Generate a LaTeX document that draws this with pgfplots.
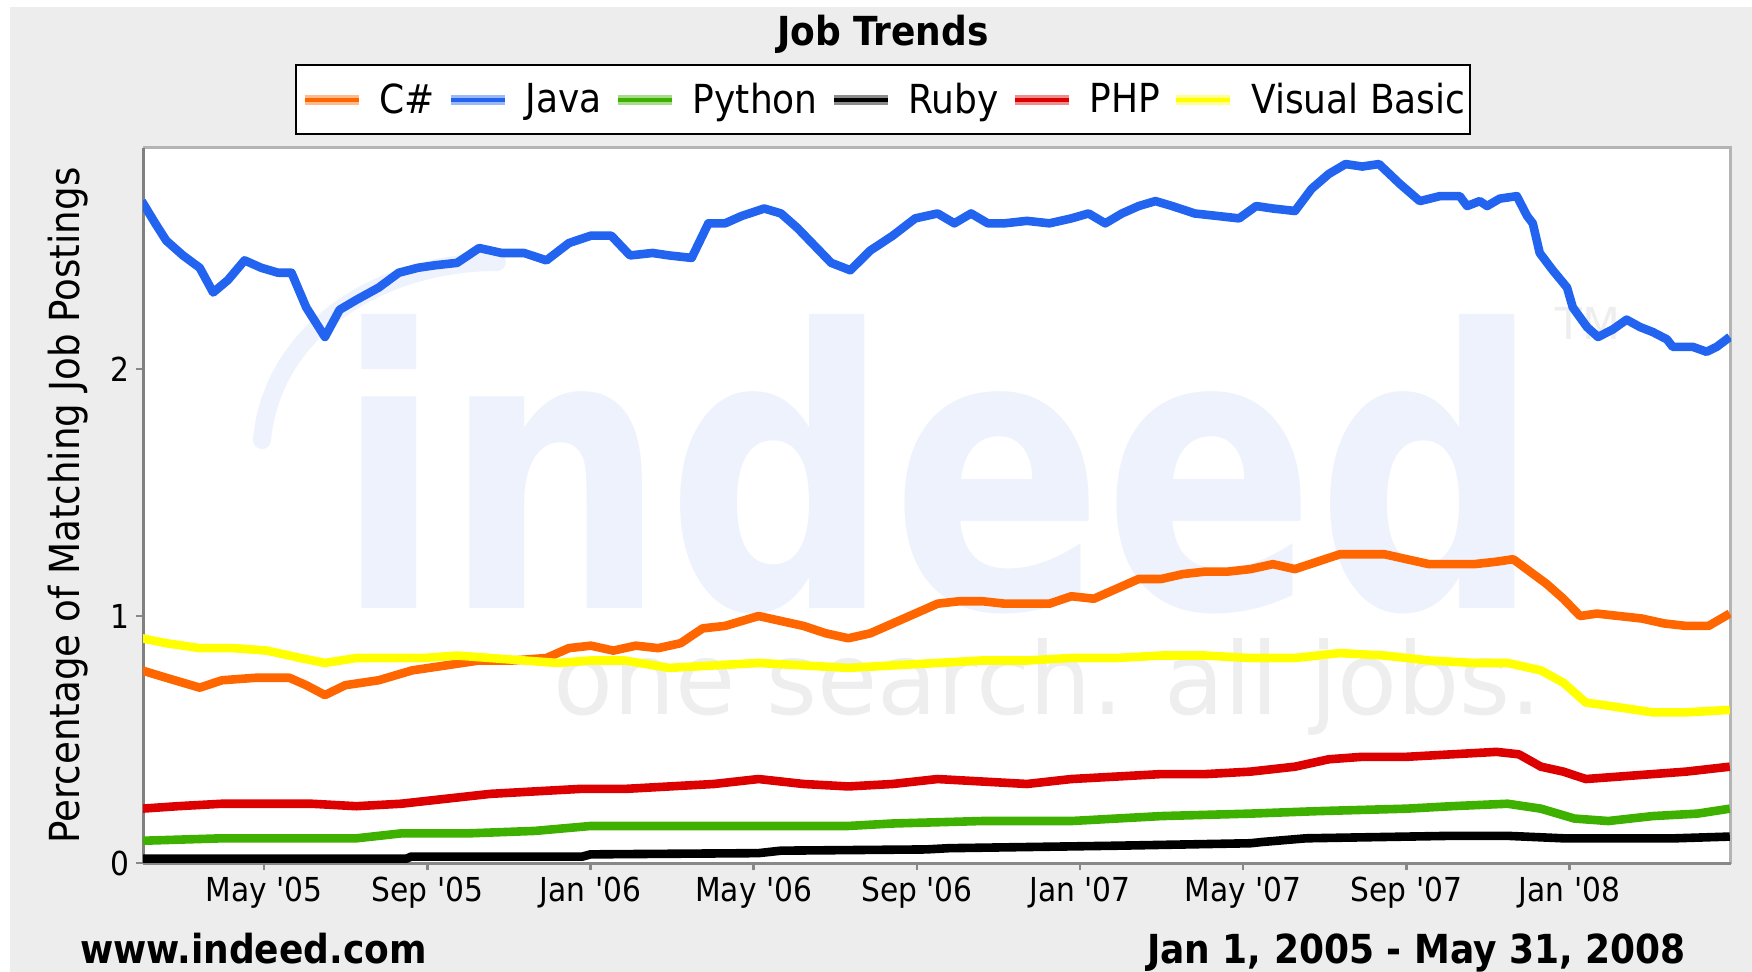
\documentclass[border=0pt]{standalone}
\usepackage{pgfplots}
\pgfplotsset{compat=1.18}
\usepackage{fontspec}
\usepackage{graphicx}
\setmainfont{DejaVu Sans Condensed}
\newfontfamily\wmfont{DejaVu Sans}
\definecolor{bggray}{HTML}{EDEDED}
\definecolor{framelight}{HTML}{B4B4B4}
\definecolor{axisgray}{HTML}{888888}
\definecolor{axisdark}{HTML}{808080}
\definecolor{wmblue}{HTML}{EEF2FD}
\definecolor{wmgray}{HTML}{EEEEEE}
\definecolor{csharp}{HTML}{FF6600}
\definecolor{java}{HTML}{2264F0}
\definecolor{python}{HTML}{3DB000}
\definecolor{ruby}{HTML}{000000}
\definecolor{php}{HTML}{DD0000}
\definecolor{vb}{HTML}{FFFF00}
\begin{document}
\begin{tikzpicture}
\useasboundingbox (0,0) rectangle (876bp,-486bp);
\begin{scope}[x=0.5bp,y=-0.5bp]
\fill[white] (0,0) rectangle (1752,972);
\fill[bggray] (10,7) rectangle (1752,972);
\fill[white] (143,148) rectangle (1731,863);
% watermark
\draw[wmblue, line width=9bp, line cap=round] (262,440) .. controls (272,330) and (380,262) .. (497,262);
\node[anchor=base west, inner sep=0, text=wmblue] at (335,609) {\resizebox{602bp}{147bp}{\wmfont\bfseries indeed}};
\node[anchor=base west, inner sep=0, text=wmgray] at (553,715) {\resizebox{494bp}{38bp}{\wmfont one search. all jobs.}};
\node[anchor=base west, inner sep=0, text=wmgray, font=\wmfont\fontsize{22bp}{24bp}\selectfont] at (1555,340) {TM};
% light frame (top and right)
\draw[framelight, line width=1.5bp] (143,148) -- (1731,148) -- (1731,864);
% title
\node[anchor=base, inner sep=0, font=\bfseries\fontsize{20bp}{24bp}\selectfont] at (883,45) {Job Trends};
% y label
\node[anchor=base, rotate=90, inner sep=0, font=\fontsize{20.7bp}{24bp}\selectfont] at (80,505.5) {Percentage of Matching Job Postings};
% footer
\node[anchor=base west, inner sep=0, font=\bfseries\fontsize{20bp}{24bp}\selectfont] at (80,964) {www.indeed.com};
\node[anchor=base east, inner sep=0, font=\bfseries\fontsize{20bp}{24bp}\selectfont] at (1686,964) {Jan 1, 2005 - May 31, 2008};
\end{scope}
\begin{axis}[
  at={(71.5bp,-431.5bp)}, anchor=south west,
  scale only axis, width=794bp, height=357.5bp,
  xmin=1.03, xmax=39.96, ymin=0, ymax=2.895,
  axis x line*=bottom, axis y line*=left,
  x axis line style={draw=axisgray, line width=1.5bp, -},
  y axis line style={draw=axisdark, line width=1.5bp, -},
  xtick={4,8,12,16,20,24,28,32,36},
  xticklabels={May \textquotesingle05, Sep \textquotesingle05, Jan \textquotesingle06, May \textquotesingle06, Sep \textquotesingle06, Jan \textquotesingle07, May \textquotesingle07, Sep \textquotesingle07, Jan \textquotesingle08},
  ytick={0,1,2},
  /pgf/number format/assume math mode=true,
  tick align=outside, major tick length=3.5bp,
  tick style={draw=axisgray, line width=1.2bp},
  tick label style={font=\fontsize{16.5bp}{20bp}\selectfont},
  every axis plot/.append style={line width=4.3bp, line join=round},
  legend style={
    at={(0.466,1.1175)}, anchor=north, legend columns=-1,
    draw=black, line width=1bp, fill=white,
    font=\fontsize{20bp}{24bp}\selectfont,
    inner xsep=2bp, inner ysep=8.5bp,
    /tikz/every odd column/.append style={column sep=7.5bp},
    /tikz/every even column/.append style={column sep=5bp},
    nodes={inner sep=0.5bp},
  },
  legend image code/.code={
    \draw[#1, line width=5bp, opacity=0.45, line cap=butt] (0bp,0bp) -- (27bp,0bp);
    \draw[#1, line width=2bp, line cap=butt] (0bp,0bp) -- (27bp,0bp);
  },
]
\addplot[csharp] coordinates {(1.00,0.78) (1.60,0.75) (2.42,0.71) (2.97,0.74) (3.79,0.75) (4.62,0.75) (5.03,0.72) (5.49,0.68) (5.99,0.72) (6.81,0.74) (7.63,0.78) (8.45,0.80) (9.27,0.82) (10.10,0.82) (10.92,0.83) (11.47,0.87) (12.01,0.88) (12.56,0.86) (13.11,0.88) (13.66,0.87) (14.21,0.89) (14.75,0.95) (15.30,0.96) (16.12,1.00) (16.67,0.98) (17.22,0.96) (17.77,0.93) (18.32,0.91) (18.86,0.93) (19.41,0.97) (19.96,1.01) (20.51,1.05) (21.05,1.06) (21.60,1.06) (22.15,1.05) (22.70,1.05) (23.25,1.05) (23.79,1.08) (24.34,1.07) (24.89,1.11) (25.44,1.15) (25.99,1.15) (26.53,1.17) (27.08,1.18) (27.63,1.18) (28.18,1.19) (28.73,1.21) (29.27,1.19) (29.82,1.22) (30.37,1.25) (30.92,1.25) (31.47,1.25) (32.01,1.23) (32.56,1.21) (33.11,1.21) (33.66,1.21) (34.21,1.22) (34.62,1.23) (35.03,1.18) (35.44,1.13) (35.85,1.07) (36.26,1.00) (36.67,1.01) (37.22,1.00) (37.77,0.99) (38.32,0.97) (38.86,0.96) (39.41,0.96) (39.93,1.01)};
\addlegendentry{C\#}
\addplot[java] coordinates {(1.00,2.68) (1.33,2.59) (1.60,2.52) (2.01,2.46) (2.42,2.41) (2.75,2.31) (3.11,2.36) (3.52,2.44) (3.93,2.41) (4.34,2.39) (4.67,2.39) (5.03,2.25) (5.49,2.13) (5.85,2.24) (6.26,2.28) (6.81,2.33) (7.30,2.39) (7.77,2.41) (8.18,2.42) (8.73,2.43) (9.27,2.49) (9.82,2.47) (10.37,2.47) (10.92,2.44) (11.47,2.51) (12.01,2.54) (12.51,2.54) (12.97,2.46) (13.52,2.47) (13.93,2.46) (14.48,2.45) (14.89,2.59) (15.30,2.59) (15.71,2.62) (16.26,2.65) (16.67,2.63) (17.08,2.57) (17.49,2.50) (17.90,2.43) (18.37,2.40) (18.86,2.48) (19.41,2.54) (19.96,2.61) (20.51,2.63) (20.92,2.59) (21.33,2.63) (21.74,2.59) (22.15,2.59) (22.70,2.60) (23.25,2.59) (23.79,2.61) (24.21,2.63) (24.62,2.59) (25.03,2.63) (25.44,2.66) (25.85,2.68) (26.26,2.66) (26.81,2.63) (27.36,2.62) (27.90,2.61) (28.32,2.66) (28.73,2.65) (29.27,2.64) (29.68,2.73) (30.10,2.79) (30.51,2.83) (30.92,2.82) (31.33,2.83) (31.84,2.75) (32.33,2.68) (32.82,2.70) (33.31,2.70) (33.49,2.66) (33.80,2.68) (33.98,2.66) (34.29,2.69) (34.71,2.70) (34.96,2.62) (35.10,2.59) (35.27,2.47) (35.59,2.40) (35.94,2.33) (36.08,2.25) (36.43,2.17) (36.70,2.13) (37.06,2.16) (37.40,2.20) (37.73,2.17) (38.04,2.15) (38.39,2.12) (38.53,2.09) (39.02,2.09) (39.36,2.07) (39.61,2.09) (39.93,2.13)};
\addlegendentry{Java}
\addplot[python] coordinates {(1.00,0.09) (2.97,0.10) (5.16,0.10) (6.26,0.10) (7.36,0.12) (9.00,0.12) (10.64,0.13) (12.01,0.15) (13.93,0.15) (16.12,0.15) (18.32,0.15) (19.41,0.16) (21.60,0.17) (23.79,0.17) (25.99,0.19) (28.18,0.20) (29.82,0.21) (32.01,0.22) (33.11,0.23) (34.48,0.24) (35.30,0.22) (36.12,0.18) (36.95,0.17) (38.04,0.19) (39.14,0.20) (39.93,0.22)};
\addlegendentry{Python}
\addplot[ruby] coordinates {(1.00,0.018) (7.50,0.018) (7.60,0.026) (11.80,0.026) (12.00,0.035) (16.12,0.04) (16.67,0.05) (20.23,0.055) (20.78,0.06) (24.89,0.07) (28.18,0.08) (28.46,0.085) (29.54,0.10) (33.11,0.11) (34.48,0.11) (35.85,0.10) (38.59,0.10) (39.93,0.107)};
\addlegendentry{Ruby}
\addplot[php] coordinates {(1.00,0.22) (1.88,0.23) (2.97,0.24) (4.07,0.24) (5.16,0.24) (6.26,0.23) (7.36,0.24) (8.45,0.26) (9.55,0.28) (10.64,0.29) (11.74,0.30) (12.84,0.30) (13.93,0.31) (15.03,0.32) (16.12,0.34) (17.22,0.32) (18.32,0.31) (19.41,0.32) (20.51,0.34) (21.60,0.33) (22.70,0.32) (23.79,0.34) (24.89,0.35) (25.99,0.36) (27.08,0.36) (28.18,0.37) (29.27,0.39) (30.10,0.42) (30.92,0.43) (32.01,0.43) (33.11,0.44) (34.21,0.45) (34.76,0.44) (35.30,0.39) (35.85,0.37) (36.40,0.34) (37.22,0.35) (38.04,0.36) (38.86,0.37) (39.93,0.39)};
\addlegendentry{PHP}
\addplot[vb] coordinates {(1.00,0.91) (1.60,0.89) (2.42,0.87) (3.25,0.87) (4.07,0.86) (4.89,0.83) (5.49,0.81) (6.26,0.83) (7.08,0.83) (7.90,0.83) (8.73,0.84) (9.55,0.83) (10.37,0.82) (11.19,0.81) (12.01,0.82) (12.84,0.82) (13.93,0.79) (15.03,0.80) (16.12,0.81) (17.22,0.80) (18.32,0.79) (19.41,0.80) (20.51,0.81) (21.60,0.82) (22.70,0.82) (23.79,0.83) (24.89,0.83) (25.99,0.84) (27.08,0.84) (28.18,0.83) (29.27,0.83) (30.37,0.85) (31.47,0.84) (32.56,0.82) (33.66,0.81) (34.48,0.81) (35.30,0.78) (35.85,0.73) (36.40,0.65) (37.22,0.63) (38.04,0.61) (38.86,0.61) (39.93,0.62)};
\addlegendentry{Visual Basic}
\end{axis}
\end{tikzpicture}
\end{document}
